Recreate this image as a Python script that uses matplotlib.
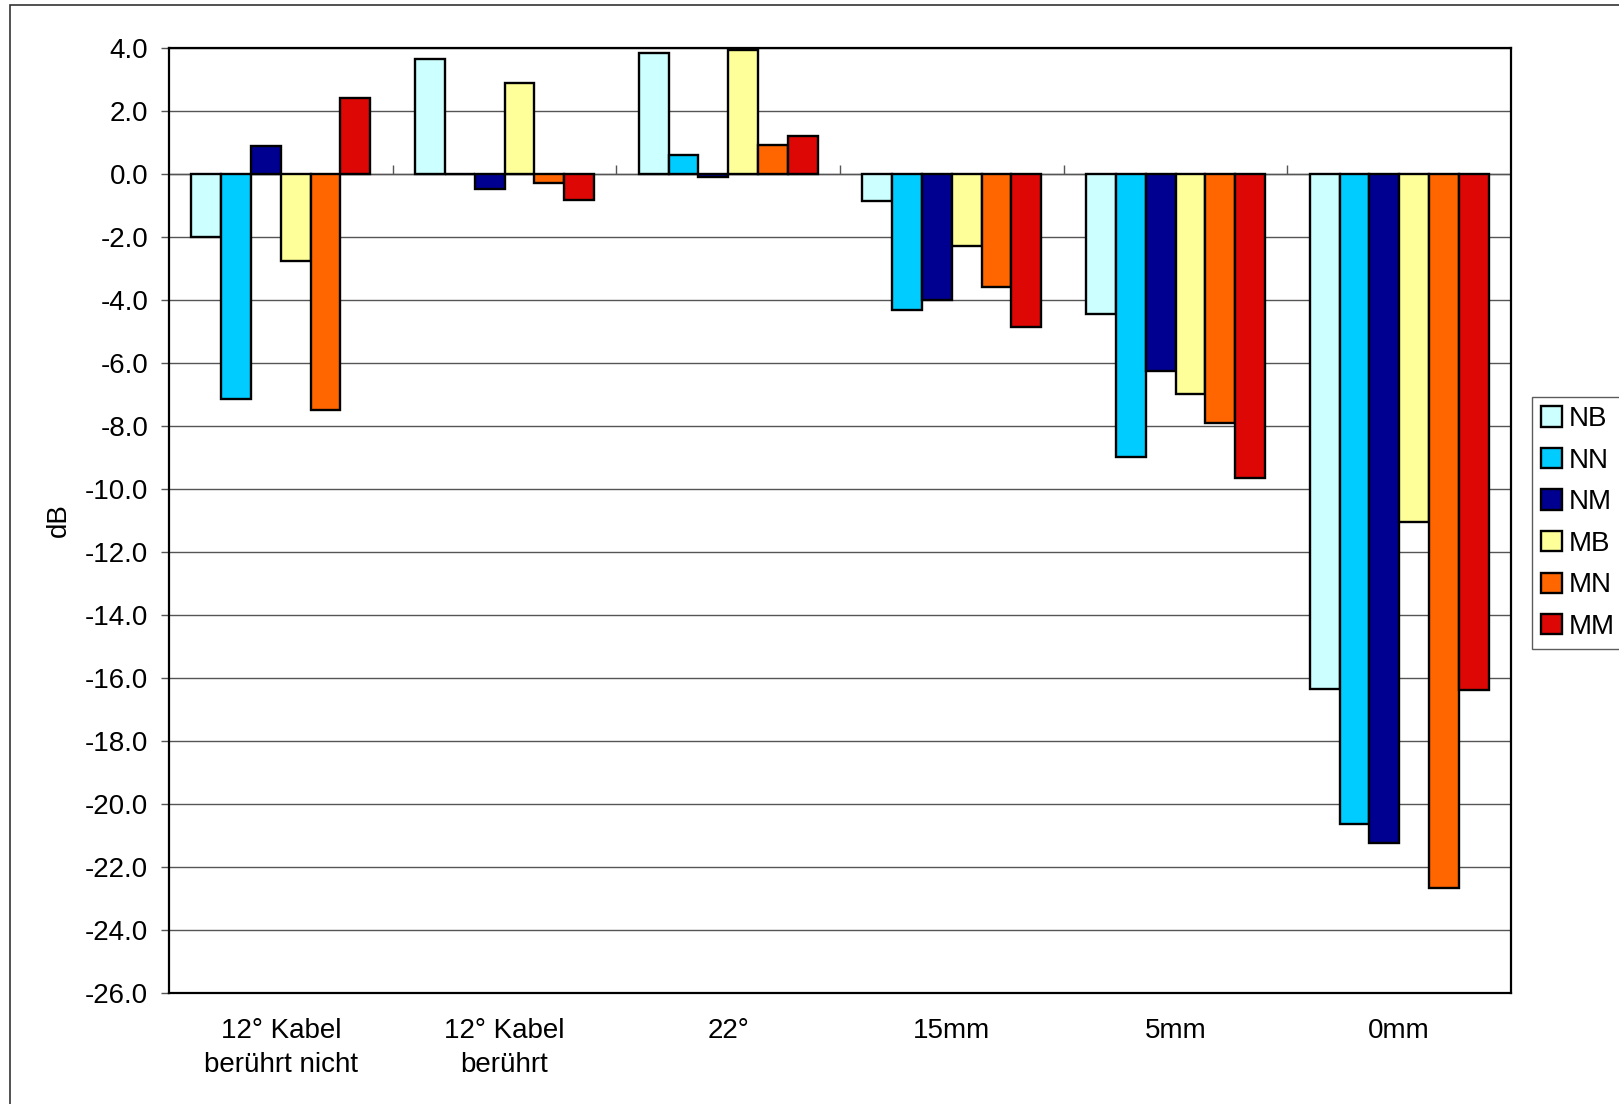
"""Grouped bar chart of level differences (dB) per mounting variant."""

import matplotlib

matplotlib.use("Agg")
import matplotlib.pyplot as plt
import numpy as np
from matplotlib.patches import Rectangle

plt.rcParams["font.family"] = ["Liberation Sans", "DejaVu Sans"]

categories = [
    "12° Kabel\nberührt nicht",
    "12° Kabel\nberührt",
    "22°",
    "15mm",
    "5mm",
    "0mm",
]
series_names = ["NB", "NN", "NM", "MB", "MN", "MM"]
series_colors = ["#CCFFFF", "#00CCFF", "#000090", "#FFFF99", "#FF6600", "#DD0806"]

nb = [-2.0, 3.65, 3.83, -0.86, -4.46, -16.36]
nn = [-7.14, 0.0, 0.59, -4.32, -8.98, -20.65]
nm = [0.89, -0.47, -0.10, -4.01, -6.26, -21.24]
mb = [-2.76, 2.89, 3.95, -2.28, -6.98, -11.06]
mn = [-7.50, -0.30, 0.92, -3.60, -7.92, -22.67]
mm = [2.40, -0.83, 1.22, -4.86, -9.65, -16.38]
series_values = [nb, nn, nm, mb, mn, mm]

y_ticks = np.arange(-26, 4.1, 2)
FS = 20

fig = plt.figure(figsize=(16.19, 11.04), dpi=100)
ax = fig.add_axes([169 / 1619, 1 - 993 / 1104, (1511 - 169) / 1619, (993 - 48) / 1104])

x = np.arange(len(categories))
n = len(series_names)
width = 0.8 / n
for i, (name, vals, color) in enumerate(zip(series_names, series_values, series_colors)):
    offset = (i - (n - 1) / 2) * width
    ax.bar(x + offset, vals, width, color=color, edgecolor="black",
           linewidth=1.7, label=name, zorder=3)

ax.set_xlim(-0.5, len(categories) - 0.5)
ax.set_ylim(-26, 4)
ax.set_yticks(y_ticks)
ax.set_yticklabels([f"{v:.1f}" for v in y_ticks])
ax.yaxis.grid(True, color="#555555", linewidth=1.0, zorder=0)
ax.set_axisbelow(True)

# category axis sits on the zero line, with small separators between groups
ax.axhline(0, color="#555555", linewidth=1.0, zorder=1)
ax.vlines(np.arange(0.5, len(categories) - 0.5, 1), 0, 0.3,
          color="#555555", linewidth=1.0, zorder=1)

ax.set_xticks(x)
ax.set_xticklabels(categories)
for lbl in ax.get_xticklabels():
    lbl.set_linespacing(1.4)
ax.tick_params(axis="x", length=0, pad=18, labelsize=FS)
ax.tick_params(axis="y", length=6, width=1.0, direction="out", pad=9,
               labelsize=FS, color="#555555")

for spine in ax.spines.values():
    spine.set_color("black")
    spine.set_linewidth(1.6)

ax.set_ylabel("dB", fontsize=FS, labelpad=9)

leg = fig.legend(loc="upper left", bbox_to_anchor=(1532 / 1619, 1 - 397 / 1104),
                 fontsize=FS, frameon=True, fancybox=False, handlelength=0.75,
                 handleheight=0.75, handletextpad=0.25, labelspacing=0.56,
                 borderpad=0.33, borderaxespad=0)
leg.get_frame().set_edgecolor("#333333")
leg.get_frame().set_linewidth(1.0)

# outer chart frame (right and bottom edges fall outside the canvas)
fig.patches.append(Rectangle((10 / 1619, -0.05), 1.1, 1 - 5 / 1104 + 0.05,
                             transform=fig.transFigure, fill=False,
                             edgecolor="#333333", linewidth=1.2))

fig.savefig("out.png", dpi=100)
